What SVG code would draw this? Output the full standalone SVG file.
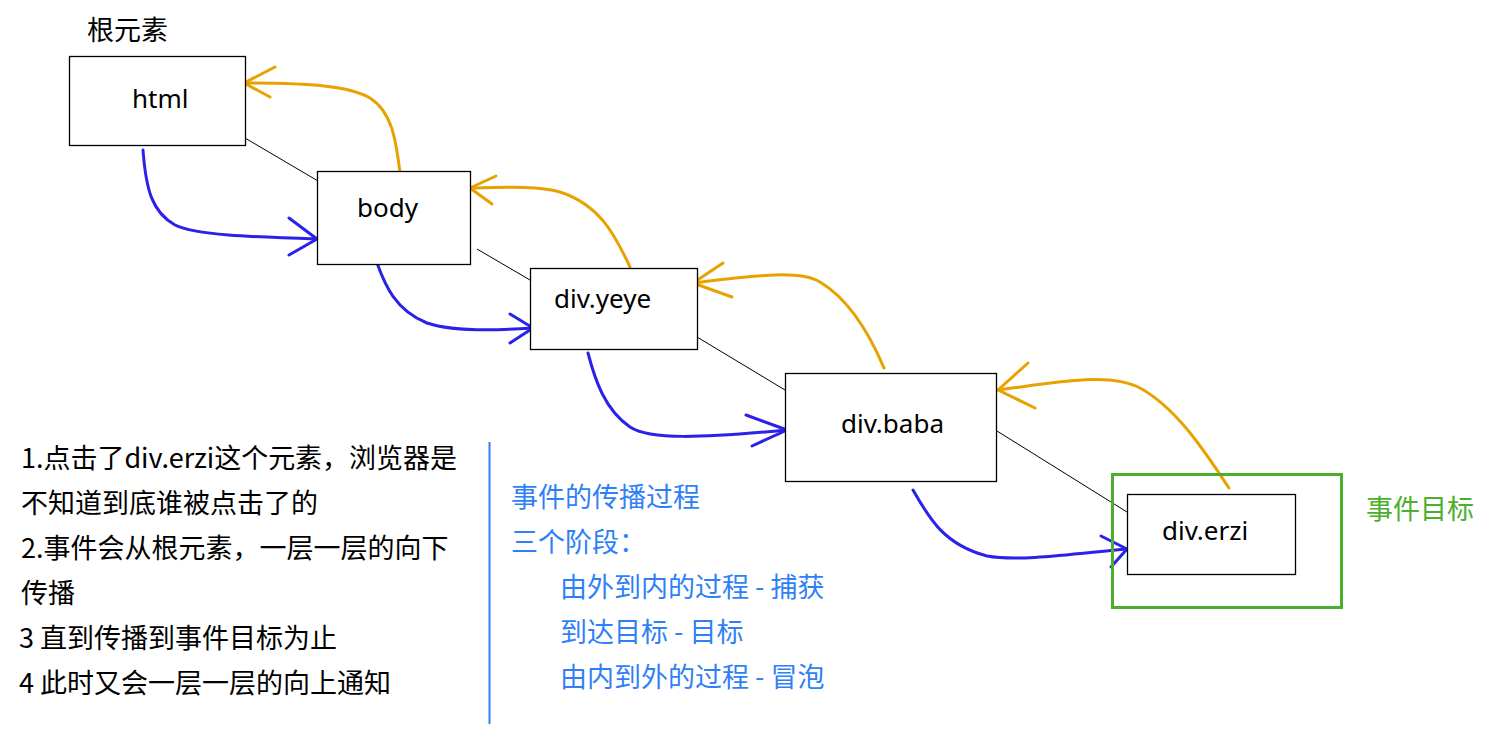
<svg xmlns="http://www.w3.org/2000/svg" width="1502" height="737" viewBox="0 0 1502 737">
<style>
.box{fill:#fff;stroke:#000;stroke-width:1.3}
.lbl{font-family:"Noto Sans","Noto Sans CJK SC",sans-serif;font-size:26px;fill:#000}
.cn{font-family:"Noto Sans CJK SC","Noto Sans",sans-serif;font-size:27px}
.blk{fill:#000}
.blu{fill:#2f7ff7}
.grn{fill:#4caf2c}
.thin{stroke:#000;stroke-width:1;fill:none}
.cap{stroke:#2a22e8;stroke-width:3;fill:none;stroke-linecap:round;stroke-linejoin:round}
.bub{stroke:#e8a200;stroke-width:3;fill:none;stroke-linecap:round;stroke-linejoin:round}
</style>
<rect width="1502" height="737" fill="#fff"/>
<g id="connectors">
<path class="thin" d="M245,138 L318,181"/>
<path class="thin" d="M477,249 L530,280"/>
<path class="thin" d="M697,337 L785,390"/>
<path class="thin" d="M997,431 L1127,512"/>
<path class="cap" d="M143,150 C146,190 152,212 175,225 C195,235 250,237 317,239"/>
<path class="cap" d="M289,218 L317,239 L289,255"/>
<path class="cap" d="M377,263 C385,285 395,310 427,323 C450,331 490,331 533,328"/>
<path class="cap" d="M510,314 L533,328 L510,343"/>
<path class="cap" d="M588,353 C595,380 605,410 630,427 C650,440 700,438 787,430"/>
<path class="cap" d="M746,415 L787,430 L752,446"/>
<path class="cap" d="M913,490 C930,520 945,545 987,556 C1020,562 1080,553 1127,549"/>
<path class="cap" d="M1101,536 L1127,549 L1111,567"/>
<path class="bub" d="M400,173 C396,140 392,112 370,98 C350,86 310,83 244,83"/>
<path class="bub" d="M275,67 L244,83 L270,97"/>
<path class="bub" d="M630,267 C615,235 600,205 560,192 C540,186 510,187 470,188"/>
<path class="bub" d="M496,176 L470,188 L492,204"/>
<path class="bub" d="M884,368 C870,335 850,300 820,282 C800,270 760,275 693,283"/>
<path class="bub" d="M723,263 L693,283 L732,297"/>
<path class="bub" d="M1229,488 C1210,460 1180,410 1140,388 C1110,372 1060,382 998,390"/>
<path class="bub" d="M1028,363 L998,390 L1035,408"/>
</g>
<g id="node-html">
<rect class="box" x="69.5" y="56.5" width="176" height="89"/>
<text class="lbl" x="132" y="108">html</text>
</g>
<g id="node-body">
<rect class="box" x="317.5" y="171.5" width="153" height="93"/>
<text class="lbl" x="357" y="217">body</text>
</g>
<g id="node-yeye">
<rect class="box" x="530.5" y="268.5" width="167" height="81"/>
<text class="lbl" x="554" y="308">div.yeye</text>
</g>
<g id="node-baba">
<rect class="box" x="785.5" y="373.5" width="211" height="108"/>
<text class="lbl" x="841" y="433">div.baba</text>
</g>
<g id="node-target">
<rect x="1112.5" y="474.5" width="229" height="133" fill="none" stroke="#4caf2c" stroke-width="3"/>
<text class="cn grn" x="1366" y="519">事件目标</text>
</g>
<g id="node-erzi">
<rect class="box" x="1127.5" y="494.5" width="168" height="80"/>
<text class="lbl" x="1162" y="540">div.erzi</text>
</g>
<g id="root-label">
<text class="cn blk" x="87" y="40">根元素</text>
</g>
<g id="notes-left" class="cn blk">
<text x="21" y="468" textLength="436" lengthAdjust="spacing">1.点击了div.erzi这个元素，浏览器是</text>
<text x="21" y="513">不知道到底谁被点击了的</text>
<text x="21" y="558">2.事件会从根元素，一层一层的向下</text>
<text x="21" y="603">传播</text>
<text x="19" y="648">3 直到传播到事件目标为止</text>
<text x="19" y="693">4 此时又会一层一层的向上通知</text>
</g>
<line x1="489.5" y1="442" x2="489.5" y2="724" stroke="#2f7ff7" stroke-width="2"/>
<g id="notes-right" class="cn blu">
<text x="511" y="507">事件的传播过程</text>
<text x="511" y="552">三个阶段：</text>
<text x="560" y="597">由外到内的过程 - 捕获</text>
<text x="560" y="642">到达目标 - 目标</text>
<text x="560" y="687">由内到外的过程 - 冒泡</text>
</g>
</svg>
